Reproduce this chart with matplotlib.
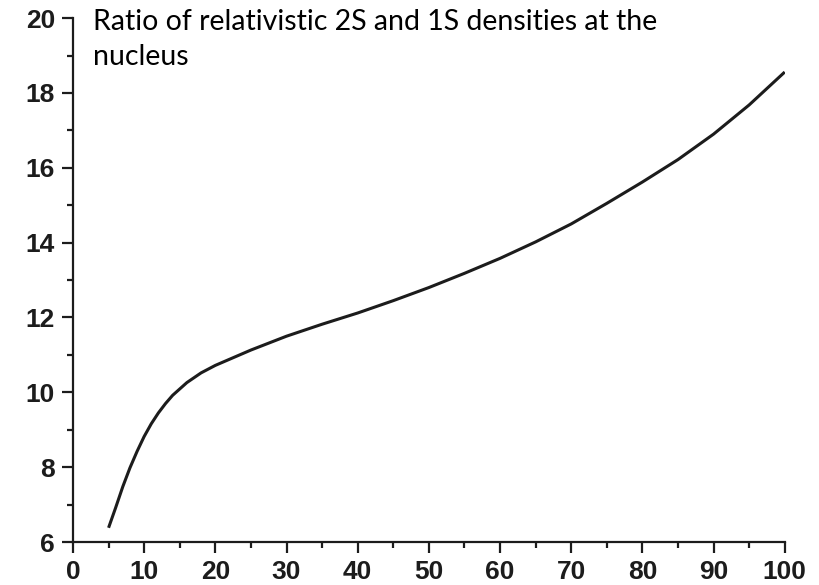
import matplotlib
matplotlib.use("Agg")
import matplotlib.pyplot as plt
from matplotlib.ticker import MultipleLocator

# Z values and the 2S/1S density ratio at the nucleus
z = [5, 6, 7, 8, 9, 10, 11, 12, 13, 14, 16, 18, 20, 25, 30, 35, 40, 45, 50,
     55, 60, 65, 70, 75, 80, 85, 90, 95, 100]
ratio = [6.38, 6.92, 7.48, 7.98, 8.42, 8.82, 9.16, 9.45, 9.70, 9.92, 10.26,
         10.52, 10.72, 11.13, 11.50, 11.82, 12.12, 12.45, 12.80, 13.18, 13.58,
         14.02, 14.50, 15.05, 15.62, 16.22, 16.90, 17.68, 18.56]

title = "Ratio of relativistic 2S and 1S densities at the\nnucleus"
ink = "#1c1c1c"

plt.rcParams["font.family"] = "Liberation Sans"
plt.rcParams["font.weight"] = "bold"
plt.rcParams["xtick.labelsize"] = 19
plt.rcParams["ytick.labelsize"] = 19

fig = plt.figure(figsize=(8.2, 5.85), dpi=100)
ax = fig.add_axes([0.089, 0.0735, 0.868, 0.8955])

ax.plot(z, ratio, color=ink, lw=2.2, solid_capstyle="butt",
        solid_joinstyle="round")

ax.set_xlim(0, 100)
ax.set_ylim(6, 20)
ax.xaxis.set_major_locator(MultipleLocator(10))
ax.xaxis.set_minor_locator(MultipleLocator(5))
ax.yaxis.set_major_locator(MultipleLocator(2))
ax.yaxis.set_minor_locator(MultipleLocator(1))

for side in ["top", "right"]:
    ax.spines[side].set_visible(False)
for side in ["left", "bottom"]:
    ax.spines[side].set_linewidth(1.6)
    ax.spines[side].set_color(ink)

ax.tick_params(which="major", direction="out", length=8, width=1.6, color=ink,
               labelcolor=ink)
ax.tick_params(which="minor", direction="out", length=4.5, width=1.6, color=ink)
ax.tick_params(axis="y", which="major", pad=5)
ax.tick_params(axis="x", which="major", pad=5)

fig.text(93 / 820, 1 - 9 / 585, title, family="Lato", fontweight="normal",
         fontsize=20.5, va="top", ha="left", color="black", linespacing=1.45)

fig.savefig("out.png", dpi=100)
